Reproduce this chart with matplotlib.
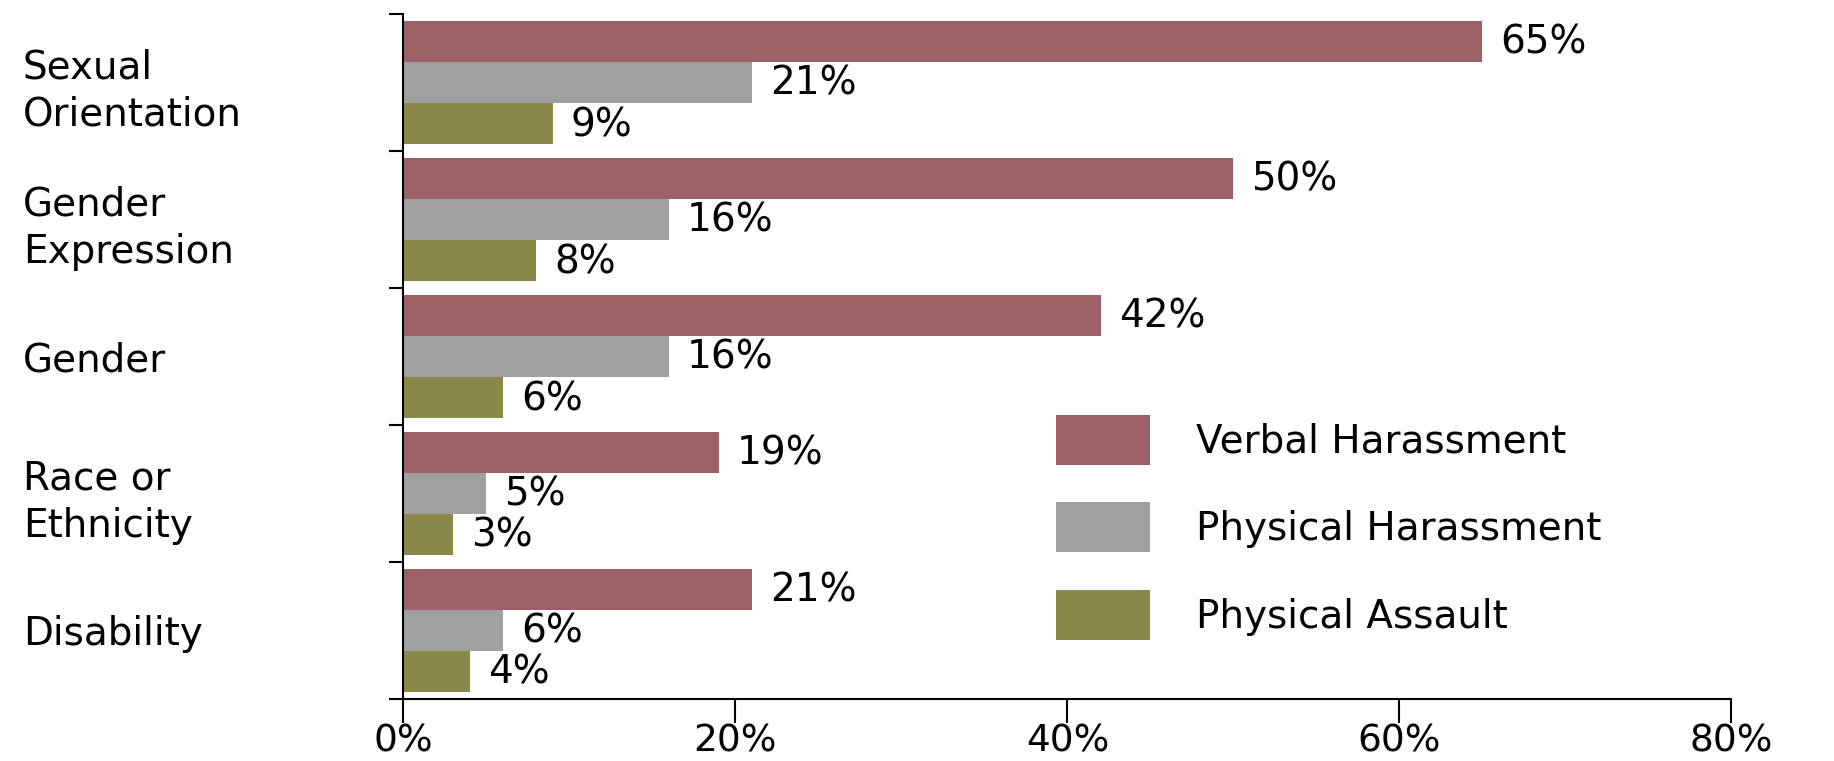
import numpy as np
import matplotlib
matplotlib.use("Agg")
import matplotlib.pyplot as plt
from matplotlib.patches import Patch

# categories (top to bottom) and percentages per series
categories = ["Sexual\nOrientation", "Gender\nExpression", "Gender", "Race or\nEthnicity", "Disability"]
verbal = [65, 50, 42, 19, 21]
physical_har = [21, 16, 16, 5, 6]
physical_asl = [9, 8, 6, 3, 4]
series_names = ["Verbal Harassment", "Physical Harassment", "Physical Assault"]
colors = ["#9d6066", "#a0a0a2", "#8a8848"]
x_ticks = [0, 20, 40, 60, 80]

plt.rcParams["font.family"] = ["DejaVu Sans"]
fs = 28

fig = plt.figure(figsize=(18.34, 7.61), dpi=100)
ax = fig.add_axes([0.220, 0.0815, 0.724, 0.900])

y = np.arange(len(categories))
h = 0.3
for i, (vals, c) in enumerate(zip([verbal, physical_har, physical_asl], colors)):
    pos = y + (i - 1) * h
    ax.barh(pos, vals, height=h, color=c)
    for p, v in zip(pos, vals):
        ax.annotate(f"{v}%", xy=(v, p), xytext=(13, -1), textcoords="offset points",
                    va="center", ha="left", fontsize=fs)

ax.set_ylim(len(categories) - 0.5, -0.5)
ax.set_xlim(0, 80)

# boundary ticks on the y axis, labels at category centres
ax.set_yticks(np.arange(-0.5, len(categories), 1.0))
ax.set_yticklabels([])
ax.set_yticks(y, minor=True)
ax.set_yticklabels(categories, minor=True, ha="left", fontsize=fs, linespacing=1.3)
ax.tick_params(axis="y", which="minor", length=0, pad=274)
ax.tick_params(axis="y", which="major", direction="out", length=10, width=1.5)

ax.set_xticks(x_ticks)
ax.set_xticklabels([f"{t}%" for t in x_ticks], fontsize=27)
ax.tick_params(axis="x", direction="out", length=17, width=1.5, pad=1)

for s in ["top", "right"]:
    ax.spines[s].set_visible(False)
for s in ["left", "bottom"]:
    ax.spines[s].set_linewidth(1.5)

handles = [Patch(facecolor=c, label=n) for c, n in zip(colors, series_names)]
ax.legend(handles=handles, loc="upper left", bbox_to_anchor=(0.576, 0.455),
          bbox_transform=fig.transFigure, frameon=False, fontsize=fs,
          handlelength=2.4, handleheight=1.6, labelspacing=0.97, handletextpad=1.2,
          borderaxespad=0, borderpad=0)

fig.savefig("out.png", dpi=100)
